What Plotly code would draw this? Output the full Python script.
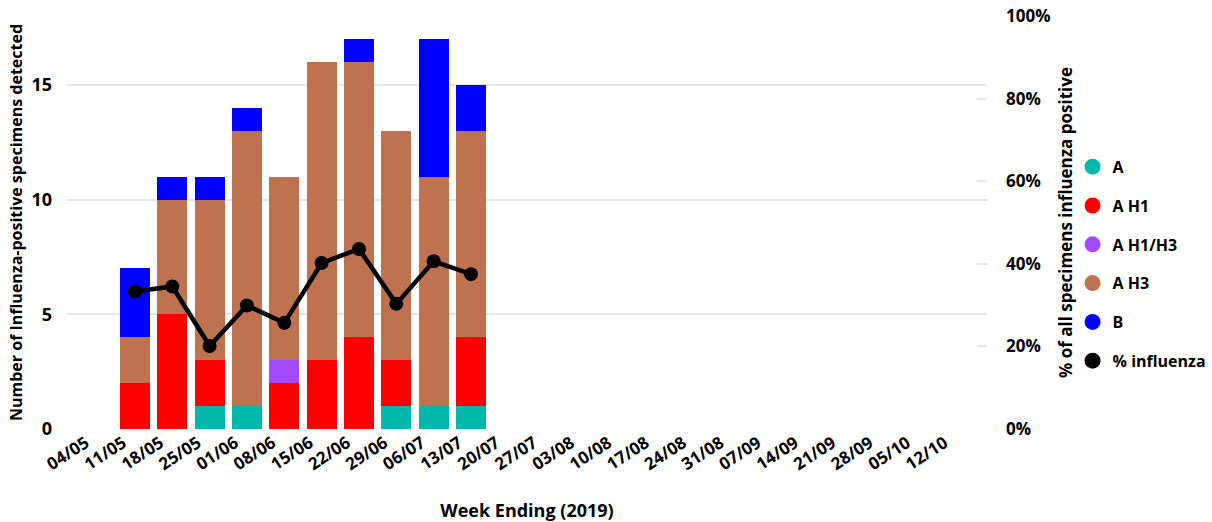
import plotly.graph_objects as go

weeks = ["04/05", "11/05", "18/05", "25/05", "01/06", "08/06", "15/06", "22/06",
         "29/06", "06/07", "13/07", "20/07", "27/07", "03/08", "10/08", "17/08",
         "24/08", "31/08", "07/09", "14/09", "21/09", "28/09", "05/10", "12/10"]

data_weeks = ["11/05", "18/05", "25/05", "01/06", "08/06", "15/06", "22/06",
              "29/06", "06/07", "13/07"]
a_vals = [0, 0, 1, 1, 0, 0, 0, 1, 1, 1]
a_h1_vals = [2, 5, 2, 0, 2, 3, 4, 2, 0, 3]
a_h1h3_vals = [0, 0, 0, 0, 1, 0, 0, 0, 0, 0]
a_h3_vals = [2, 5, 7, 12, 8, 13, 12, 10, 10, 9]
b_vals = [3, 1, 1, 1, 0, 0, 1, 0, 6, 2]
pct_flu = [33.3, 34.5, 20.1, 29.9, 25.7, 40.2, 43.6, 30.3, 40.6, 37.5]

left_ticks = [0, 5, 10, 15]
right_ticks = [0, 20, 40, 60, 80, 100]
right_labels = ["0%", "20%", "40%", "60%", "80%", "100%"]

series = [
    ("A", a_vals, "#01B8AA"),
    ("A H1", a_h1_vals, "#FF0000"),
    ("A H1/H3", a_h1h3_vals, "#A349FF"),
    ("A H3", a_h3_vals, "#BF724F"),
    ("B", b_vals, "#0000FF"),
]

FONT = "Open Sans"
XR = [-0.82, 23.82]
LABEL_SHIFT = 0.32  # category labels sit slightly left of the bar centres

fig = go.Figure()

for name, vals, color in series:
    fig.add_trace(go.Bar(x=data_weeks, y=vals, name=name, marker=dict(color=color, line=dict(width=0)),
                         width=0.8, showlegend=False))

fig.add_trace(go.Scatter(x=data_weeks, y=pct_flu, name="% influenza", yaxis="y2",
                         mode="lines+markers", line=dict(color="black", width=4.5),
                         marker=dict(color="black", size=14), showlegend=False))

# legend entries (circle markers), placed on the label axis
for i, (name, vals, color) in enumerate(series + [("% influenza", None, "black")]):
    fig.add_trace(go.Scatter(x=[None], y=[None], xaxis="x2", mode="markers", name=name,
                             marker=dict(color=color, size=16, symbol="circle"),
                             legendgroup="g%d" % i, showlegend=True))

fig.update_layout(
    width=1212, height=522,
    margin=dict(l=67, r=225, t=16, b=93, autoexpand=False),
    barmode="stack",
    plot_bgcolor="white", paper_bgcolor="white",
    font=dict(family=FONT, size=16, color="black"),
    xaxis=dict(type="category", categoryorder="array", categoryarray=weeks,
               range=XR, automargin=False, showticklabels=False,
               showgrid=False, showline=False, zeroline=False, ticks=""),
    xaxis2=dict(type="category", categoryorder="array", categoryarray=weeks,
                tickvals=weeks, range=[XR[0] + LABEL_SHIFT, XR[1] + LABEL_SHIFT],
                overlaying="x", anchor="y", side="bottom", tickangle=-33, automargin=False,
                tickfont=dict(family=FONT, size=17, color="black", weight="bold"),
                showgrid=False, showline=False, zeroline=False, ticks="",
                title=dict(text="<b>Week Ending (2019)</b>", font=dict(size=18), standoff=32)),
    yaxis=dict(range=[0, 18], tickvals=left_ticks, showgrid=True, automargin=False,
               gridcolor="#E6E6E6", gridwidth=1.5, zeroline=False, showline=False,
               tickfont=dict(family=FONT, size=18, color="black", weight="bold"),
               ticklabelstandoff=14,
               title=dict(text="<b>Number of Influenza-positive specimens detected</b>",
                          font=dict(size=16), standoff=4)),
    yaxis2=dict(range=[0, 100], overlaying="y", side="right", tickmode="array",
                tickvals=right_ticks, ticktext=right_labels, automargin=False,
                showgrid=False, zeroline=False, showline=False, ticklabeloverflow="allow",
                ticks="inside", ticklen=10, tickcolor="#E6E6E6", tickwidth=1.5,
                ticklabelstandoff=18,
                tickfont=dict(family=FONT, size=17, color="black", weight="bold"),
                title=dict(text="<b>% of all specimens influenza positive</b>",
                           font=dict(size=17), standoff=10)),
    legend=dict(x=1.093, y=0.40, xanchor="left", yanchor="middle",
                font=dict(family=FONT, size=16, color="black", weight="bold"),
                tracegroupgap=15, itemwidth=30, bgcolor="rgba(0,0,0,0)"),
)

fig.write_html("out.html", config={"displayModeBar": False},
               post_script="document.body.style.margin='0';")
